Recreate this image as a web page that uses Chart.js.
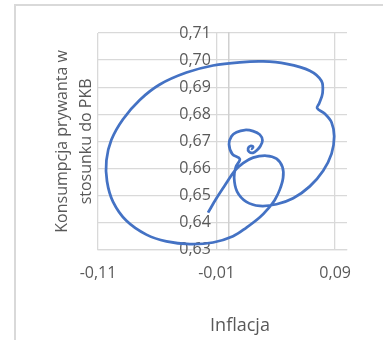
<!DOCTYPE html>
<html>
<head>
<meta charset="utf-8">
<script src="https://cdn.jsdelivr.net/npm/chart.js@4/dist/chart.umd.min.js"></script>
<style>
  html, body { margin: 0; padding: 0; background: #ffffff; }
  #wrap { position: relative; width: 383px; height: 340px; overflow: hidden; }
  #frame { position: absolute; left: 14px; top: 4px; width: 400px; height: 400px;
           border-left: 2px solid #d9d9d9; border-top: 2px solid #d9d9d9; }
  #chart { position: absolute; left: 0; top: 0; }
</style>
</head>
<body>
<div id="wrap">
  <div id="frame"></div>
  <canvas id="chart" width="383" height="340"></canvas>
</div>
<script>
// Inflation (x) and private consumption to GDP ratio (y), in time order
const inflacja = [-0.0172, -0.0101, -0.0016, 0.0054, 0.0124, 0.0208, 0.0321, 0.0405, 0.0456, 0.0461,
  0.0433, 0.0391, 0.0335, 0.0265, 0.0152, 0.0039, -0.0130, -0.0326, -0.0523, -0.0692,
  -0.0860, -0.0973, -0.1024, -0.1029, -0.0987, -0.0889, -0.0748, -0.0579, -0.0354, -0.0130,
  0.0096, 0.0292, 0.0490, 0.0686, 0.0785, 0.0794, 0.0765, 0.0748, 0.0813, 0.0870,
  0.0892, 0.0870, 0.0799, 0.0686, 0.0546, 0.0405, 0.0265, 0.0152, 0.0073, 0.0048,
  0.0062, 0.0096, 0.0033, 0.0005, 0.0026, 0.0068, 0.0138, 0.0208, 0.0265, 0.0287,
  0.0270, 0.0242, 0.0208, 0.0174, 0.0166, 0.0186, 0.0208, 0.0197, 0.0191];
const konsumpcja = [0.6437, 0.6490, 0.6547, 0.6592, 0.6620, 0.6640, 0.6647, 0.6636, 0.6605, 0.6566,
  0.6522, 0.6484, 0.6452, 0.6420, 0.6382, 0.6350, 0.6327, 0.6321, 0.6331, 0.6356,
  0.6407, 0.6477, 0.6553, 0.6630, 0.6706, 0.6782, 0.6853, 0.6910, 0.6954, 0.6980,
  0.6992, 0.6995, 0.6986, 0.6961, 0.6923, 0.6878, 0.6840, 0.6823, 0.6802, 0.6770,
  0.6719, 0.6655, 0.6592, 0.6534, 0.6490, 0.6468, 0.6462, 0.6477, 0.6515, 0.6566,
  0.6605, 0.6635, 0.6653, 0.6690, 0.6719, 0.6734, 0.6742, 0.6738, 0.6725, 0.6704,
  0.6683, 0.6668, 0.6658, 0.6662, 0.6674, 0.6683, 0.6680, 0.6673, 0.6674];

// Axis ticks
const xTickValues = [-0.11, -0.01, 0.09];
const xTickLabels = ['-0,11', '-0,01', '0,09'];
const yTickValues = [0.63, 0.64, 0.65, 0.66, 0.67, 0.68, 0.69, 0.70, 0.71];
const yTickLabels = ['0,63', '0,64', '0,65', '0,66', '0,67', '0,68', '0,69', '0,70', '0,71'];

const xTitle = 'Inflacja';
const yTitle = ['Konsumpcja prywanta w', 'stosunku do PKB'];

const textColor = '#595959';
const gridColor = '#d9d9d9';
const fontFamily = "'Open Sans', 'Noto Sans', sans-serif";

const points = inflacja.map((x, i) => ({ x: x, y: konsumpcja[i] }));

// Horizontal axis caption, centred under the chart body
const xCaption = {
  id: 'xCaption',
  afterDraw(chart) {
    const ctx = chart.ctx;
    ctx.save();
    ctx.font = '18px ' + fontFamily;
    ctx.fillStyle = textColor;
    ctx.textAlign = 'center';
    ctx.textBaseline = 'middle';
    ctx.fillText(xTitle, 240, 325.5);
    ctx.restore();
  }
};

new Chart(document.getElementById('chart'), {
  type: 'scatter',
  data: {
    datasets: [{
      data: points,
      showLine: true,
      borderColor: '#4472c4',
      borderWidth: 2.75,
      pointRadius: 0,
      pointHoverRadius: 0,
      tension: 0.35,
      fill: false
    }]
  },
  options: {
    responsive: false,
    animation: false,
    devicePixelRatio: 1,
    layout: { padding: { left: 0, right: 36, top: 33, bottom: 43 } },
    plugins: { legend: { display: false }, tooltip: { enabled: false } },
    scales: {
      x: {
        type: 'linear',
        position: 'bottom',
        min: -0.11,
        max: 0.1,
        afterBuildTicks: (scale) => { scale.ticks = xTickValues.map(v => ({ value: v })); },
        ticks: {
          callback: (v, i) => xTickLabels[i],
          color: textColor,
          font: { family: fontFamily, size: 16 },
          padding: 14,
          maxRotation: 0,
          autoSkip: false
        },
        grid: { color: gridColor, lineWidth: 1.3, drawTicks: false },
        border: { display: true, color: gridColor, width: 1.3 }
      },
      y: {
        type: 'linear',
        position: { x: 0 },
        min: 0.63,
        max: 0.71,
        afterBuildTicks: (scale) => { scale.ticks = yTickValues.map(v => ({ value: v })); },
        ticks: { display: false },
        grid: { color: gridColor, lineWidth: 1.3, drawTicks: false },
        border: { display: true, color: '#d0d0d0', width: 1.5 }
      },
      yLabels: {
        type: 'linear',
        position: { x: -0.0148 },
        min: 0.63,
        max: 0.71,
        afterBuildTicks: (scale) => { scale.ticks = yTickValues.map(v => ({ value: v })); },
        ticks: {
          callback: (v, i) => yTickLabels[i],
          color: textColor,
          font: { family: fontFamily, size: 16 },
          padding: 0,
          autoSkip: false
        },
        grid: { display: false, drawTicks: false },
        border: { display: false }
      },
      yTitle: {
        type: 'linear',
        position: 'left',
        ticks: { display: false },
        grid: { display: false, drawTicks: false },
        border: { display: false },
        title: {
          display: true,
          text: yTitle,
          color: textColor,
          font: { family: fontFamily, size: 16, lineHeight: 1.5 },
          padding: { top: 50, bottom: 0 }
        }
      }
    }
  },
  plugins: [xCaption]
});
</script>
</body>
</html>
